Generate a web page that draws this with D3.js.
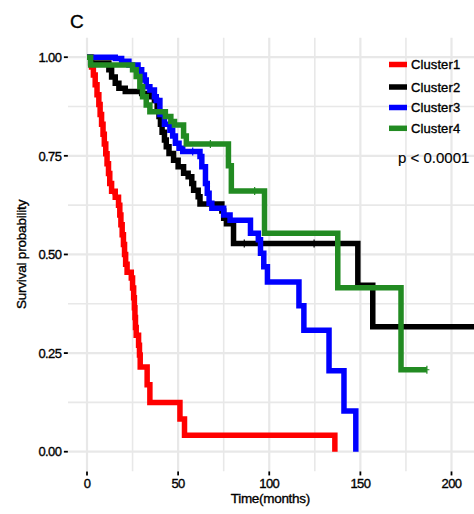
<!DOCTYPE html>
<html>
<head>
<meta charset="utf-8">
<script src="https://cdn.jsdelivr.net/npm/d3@7/dist/d3.min.js"></script>
<style>
  html, body { margin: 0; padding: 0; background: #ffffff; }
  svg { display: block; }
  text { font-family: "Liberation Sans", Arial, sans-serif; fill: #000; stroke: #000; stroke-width: 0.35px; }
</style>
</head>
<body>
<svg id="chart" width="474" height="514"></svg>
<script>
// Kaplan–Meier survival estimates per cluster (time in months, survival probability)
const clusterNames = ["Cluster1", "Cluster2", "Cluster3", "Cluster4"];
const clusterColors = ["#ff0000", "#000000", "#0000ff", "#228b22"];

const c1Time = [0, 2.5, 3.5, 4.5, 5.5, 6.5, 7.2, 8, 8.8, 9.5, 10.3, 11, 11.8, 12.5, 13.5, 15.5, 17.3, 18, 18.6, 19.3, 20, 20.6, 21.2, 22, 24.3, 25, 25.6, 26, 26.3, 26.6, 27, 28.3, 28.8, 29.2, 33, 34.5, 51, 53.5, 136];
const c1Surv = [1, 0.975, 0.955, 0.93, 0.905, 0.88, 0.855, 0.83, 0.805, 0.78, 0.755, 0.73, 0.705, 0.68, 0.66, 0.645, 0.625, 0.6, 0.575, 0.55, 0.525, 0.5, 0.475, 0.455, 0.44, 0.415, 0.39, 0.365, 0.34, 0.315, 0.295, 0.27, 0.245, 0.215, 0.17, 0.125, 0.083, 0.042, 0];
const c1Censor = [10, 14.3, 21.5, 25.5];

const c2Time = [0, 2, 12, 13.5, 15.5, 17.5, 21, 30, 35, 37, 38.5, 39.5, 40.3, 41.2, 42.5, 43.5, 45, 47.5, 50, 53, 55.5, 57.5, 58.5, 61, 62, 74, 75, 76.5, 80.4, 148.6, 156.8, 215];
const c2Surv = [1, 0.985, 0.968, 0.95, 0.934, 0.921, 0.913, 0.908, 0.9, 0.89, 0.87, 0.85, 0.83, 0.81, 0.79, 0.773, 0.756, 0.739, 0.722, 0.706, 0.697, 0.68, 0.663, 0.646, 0.628, 0.61, 0.592, 0.578, 0.528, 0.422, 0.317, 0.317];
const c2Censor = [86.3, 96, 124.6];

const c3Time = [0, 15.5, 19, 23, 28, 30, 31.5, 32.5, 34.5, 37, 38, 40, 42.5, 45.5, 47, 48.5, 50.5, 52.5, 62, 63, 65, 66, 67, 68.5, 75, 78.5, 89.7, 94, 95.2, 97, 99, 116.3, 119, 132.8, 141, 147.5];
const c3Surv = [1, 0.997, 0.99, 0.98, 0.968, 0.955, 0.942, 0.925, 0.917, 0.9, 0.89, 0.855, 0.83, 0.815, 0.8, 0.782, 0.769, 0.761, 0.748, 0.722, 0.68, 0.655, 0.63, 0.617, 0.6, 0.587, 0.554, 0.537, 0.503, 0.469, 0.43, 0.37, 0.308, 0.205, 0.103, 0];
const c3Censor = [58];

const c4Time = [0, 2, 25, 27, 29, 30.5, 32.5, 34.5, 43, 46, 48, 53, 54.5, 77.6, 79.2, 97.4, 137.6, 172.3, 186.5];
const c4Surv = [1, 0.98, 0.968, 0.951, 0.925, 0.9, 0.879, 0.862, 0.85, 0.837, 0.828, 0.8, 0.78, 0.725, 0.661, 0.554, 0.4155, 0.2077, 0.2077];
const c4Censor = [67.7, 92, 186.5];

const xTicks = [0, 50, 100, 150, 200];
const xTickLabels = ["0", "50", "100", "150", "200"];
const yTicks = [0, 0.25, 0.5, 0.75, 1];
const yTickLabels = ["0.00", "0.25", "0.50", "0.75", "1.00"];
const pValueText = "p < 0.0001";

const curves = [
  { time: c1Time, surv: c1Surv, censor: c1Censor },
  { time: c2Time, surv: c2Surv, censor: c2Censor },
  { time: c3Time, surv: c3Surv, censor: c3Censor },
  { time: c4Time, surv: c4Surv, censor: c4Censor }
];

const svg = d3.select("#chart");
const W = 474, H = 514;

const x = d3.scaleLinear().domain([0, 200]).range([87, 451.5]);
const y = d3.scaleLinear().domain([0, 1]).range([451.7, 57.2]);

// panel extent (5% expansion on both axes, x upper limit 210)
const px0 = x(-10.5), px1 = x(220.5);
const py0 = y(1.05), py1 = y(-0.05);

svg.append("defs").append("clipPath").attr("id", "panelClip")
  .append("rect").attr("x", px0).attr("y", py0)
  .attr("width", Math.min(px1, W) - px0).attr("height", py1 - py0);

const panel = svg.append("g").attr("clip-path", "url(#panelClip)");
panel.append("rect").attr("x", px0).attr("y", py0)
  .attr("width", px1 - px0).attr("height", py1 - py0).attr("fill", "#ffffff");

// grid lines: minor first, then major
const xMinor = [25, 75, 125, 175];
const yMinor = [0.125, 0.375, 0.625, 0.875];
const gridColor = "#e8e8e8";

panel.selectAll("line.xminor").data(xMinor).join("line")
  .attr("x1", d => x(d)).attr("x2", d => x(d)).attr("y1", py0).attr("y2", py1)
  .attr("stroke", gridColor).attr("stroke-width", 1.6);
panel.selectAll("line.yminor").data(yMinor).join("line")
  .attr("y1", d => y(d)).attr("y2", d => y(d)).attr("x1", px0).attr("x2", px1)
  .attr("stroke", gridColor).attr("stroke-width", 1.6);
panel.selectAll("line.xmajor").data(xTicks).join("line")
  .attr("x1", d => x(d)).attr("x2", d => x(d)).attr("y1", py0).attr("y2", py1)
  .attr("stroke", gridColor).attr("stroke-width", 2.2);
panel.selectAll("line.ymajor").data(yTicks).join("line")
  .attr("y1", d => y(d)).attr("y2", d => y(d)).attr("x1", px0).attr("x2", px1)
  .attr("stroke", gridColor).attr("stroke-width", 2.2);

// survival step curves
const stepLine = d3.line()
  .x(d => x(d[0])).y(d => y(d[1]))
  .curve(d3.curveStepAfter);

curves.forEach((c, i) => {
  const pts = c.time.map((t, k) => [t, c.surv[k]]);
  panel.append("path")
    .attr("d", stepLine(pts))
    .attr("fill", "none")
    .attr("stroke", clusterColors[i])
    .attr("stroke-width", 5.5)
    .attr("stroke-linejoin", "miter")
    .attr("stroke-linecap", "butt");

  // censoring marks
  const survAt = t => {
    let s = c.surv[0];
    for (let k = 0; k < c.time.length; k++) { if (c.time[k] <= t) s = c.surv[k]; }
    return s;
  };
  c.censor.forEach(t => {
    const cx = x(t), cy = y(survAt(t));
    panel.append("path")
      .attr("d", `M${cx - 2.5},${cy}H${cx + 2.5}M${cx},${cy - 4}V${cy + 4}`)
      .attr("stroke", clusterColors[i]).attr("stroke-width", 1.2).attr("fill", "none");
  });
});

// y axis: ticks and labels
const yAxis = svg.append("g");
yAxis.selectAll("line").data(yTicks).join("line")
  .attr("x1", px0 - 4).attr("x2", px0).attr("y1", d => y(d)).attr("y2", d => y(d))
  .attr("stroke", "#000").attr("stroke-width", 1.8);
yAxis.selectAll("text").data(yTicks).join("text")
  .attr("x", px0 - 6.5).attr("y", d => y(d)).attr("dy", "0.36em")
  .attr("text-anchor", "end").attr("font-size", 13).attr("letter-spacing", -0.6)
  .text((d, i) => yTickLabels[i]);

// x axis: ticks and labels
const xAxis = svg.append("g");
xAxis.selectAll("line").data(xTicks).join("line")
  .attr("x1", d => x(d)).attr("x2", d => x(d)).attr("y1", py1).attr("y2", py1 + 4)
  .attr("stroke", "#000").attr("stroke-width", 1.8);
xAxis.selectAll("text").data(xTicks).join("text")
  .attr("x", d => x(d)).attr("y", 488)
  .attr("text-anchor", "middle").attr("font-size", 13).attr("letter-spacing", -0.6)
  .text((d, i) => xTickLabels[i]);

// axis titles
svg.append("text").attr("x", (px0 + px1) / 2 - 8).attr("y", 503)
  .attr("text-anchor", "middle").attr("font-size", 13.5).attr("letter-spacing", -0.3)
  .text("Time(months)");
svg.append("text")
  .attr("transform", `translate(26,${y(0.5)}) rotate(-90)`)
  .attr("text-anchor", "middle").attr("font-size", 13.5).attr("letter-spacing", -0.2)
  .text("Survival probability");

// panel tag
svg.append("text").attr("x", 70).attr("y", 28).attr("font-size", 19).text("C");

// legend
const legend = svg.append("g");
const legendRows = [64.5, 87, 107.5, 128.3];
clusterNames.forEach((name, i) => {
  legend.append("line")
    .attr("x1", 389).attr("x2", 407).attr("y1", legendRows[i]).attr("y2", legendRows[i])
    .attr("stroke", clusterColors[i]).attr("stroke-width", 5.5);
  legend.append("text")
    .attr("x", 411).attr("y", legendRows[i]).attr("dy", "0.36em")
    .attr("font-size", 13).attr("letter-spacing", 0.1)
    .text(name);
});

// log-rank p-value
svg.append("text").attr("x", 398).attr("y", 163).attr("font-size", 15)
  .style("stroke-width", "0.15px").text(pValueText);
</script>
</body>
</html>
